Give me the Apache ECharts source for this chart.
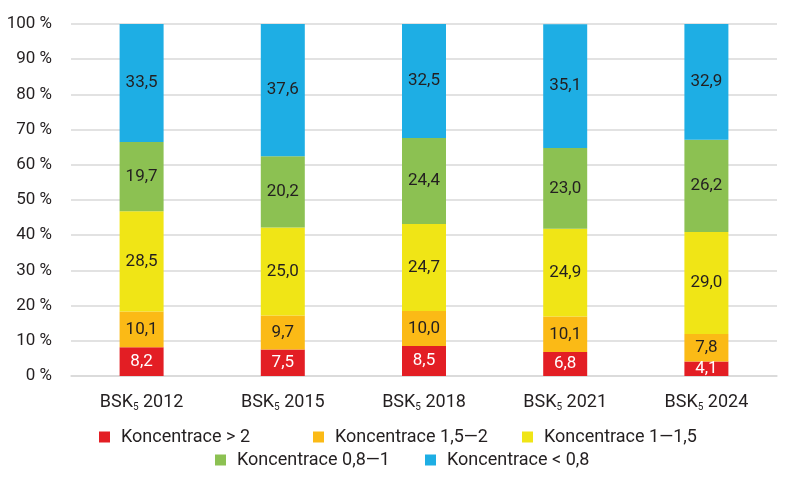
<!DOCTYPE html>
<html><head><meta charset="utf-8">
<script src="https://cdn.jsdelivr.net/npm/echarts@6/dist/echarts.min.js"></script>
<style>html,body{margin:0;padding:0;background:#fff}#c{width:800px;height:479px}</style>
</head><body><div id="c"></div>
<script>
const years = ['2012','2015','2018','2021','2024'];
const seriesNames = ['Koncentrace > 2','Koncentrace 1,5\u20142','Koncentrace 1\u20141,5','Koncentrace 0,8\u20141','Koncentrace < 0,8'];
const conc_gt2 = [8.2, 7.5, 8.5, 6.8, 4.1];
const conc_15_2 = [10.1, 9.7, 10.0, 10.1, 7.8];
const conc_1_15 = [28.5, 25.0, 24.7, 24.9, 29.0];
const conc_08_1 = [19.7, 20.2, 24.4, 23.0, 26.2];
const conc_lt08 = [33.5, 37.6, 32.5, 35.1, 32.9];
const yTicks = [0,10,20,30,40,50,60,70,80,90,100];

const colors = ['#e31e24','#fbba16','#f0e516','#8cc152','#1eaee4'];
const allData = [conc_gt2, conc_15_2, conc_1_15, conc_08_1, conc_lt08];
const txt = '#231f20';
const font = 'Roboto';

const series = allData.map((d,i)=>({
  name: seriesNames[i], type:'bar', stack:'s', barWidth:44,
  data: d,
  itemStyle:{color:colors[i]},
  label:{show:true, position:'inside', fontFamily:font, fontSize:17,
    color: i===0 ? '#ffffff' : txt,
    formatter: p => p.value.toFixed(1).replace('.', ',')}
}));

const legendPos = [[94,423],[308,423],[517,423],[210,446],[420,446]];
const legends = seriesNames.map((n,i)=>({
  data:[n], left:legendPos[i][0], top:legendPos[i][1], itemWidth:11, itemHeight:11, itemGap:0,
  icon:'rect', textStyle:{fontFamily:font, fontSize:18, color:txt, padding:[0,0,0,6]}
}));

const chart = echarts.init(document.getElementById('c'), null, {renderer:'canvas'});
chart.setOption({
  animation:false,
  color: colors,
  grid:{left:71, right:23, top:24, bottom:103},
  legend: legends,
  xAxis:{type:'category', data:years,
    axisLine:{lineStyle:{color:'#d9d9d9', width:1.5}}, axisTick:{show:false},
    axisLabel:{interval:0, margin:16, formatter: v => '{a|BSK}{s|5}{a| ' + v + '}',
      rich:{a:{fontFamily:font, fontSize:18, color:txt, lineHeight:20},
            s:{fontFamily:font, fontSize:10, color:txt, lineHeight:20, verticalAlign:'bottom', padding:[15,0,0,0]}}}},
  yAxis:{type:'value', min:0, max:100, interval:10,
    axisLine:{show:false}, axisTick:{show:false},
    splitLine:{lineStyle:{color:'#d9d9d9', width:1.5}},
    axisLabel:{margin:19, fontFamily:font, fontSize:17, color:txt, formatter: v => v + ' %'}},
  series: series
});
</script></body></html>
